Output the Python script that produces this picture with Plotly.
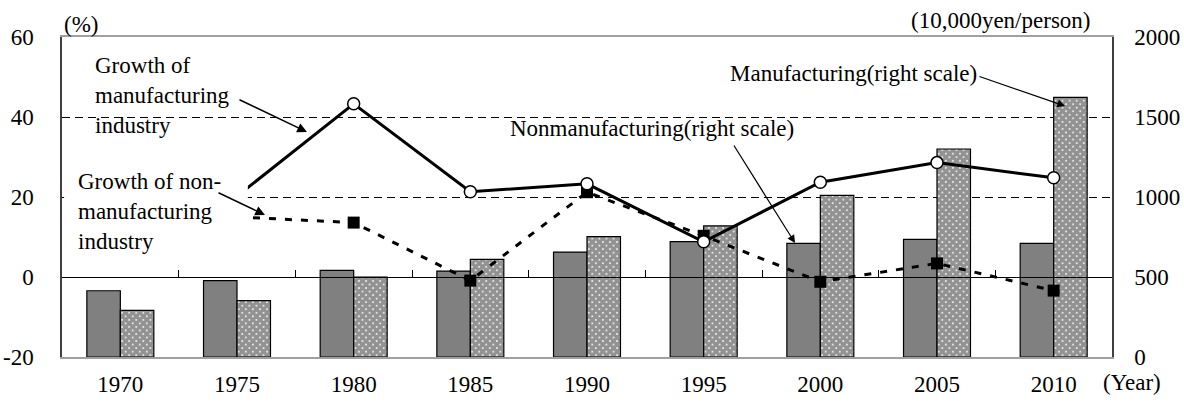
import plotly.graph_objects as go

years = ["1970", "1975", "1980", "1985", "1990", "1995", "2000", "2005", "2010"]
nonmfg_level = [414, 477, 542, 537, 656, 721, 710, 735, 710]
mfg_level = [292, 352, 500, 610, 752, 819, 1010, 1300, 1623]
mfg_growth = [None, 20.2, 43.3, 21.3, 23.3, 8.8, 23.7, 28.6, 24.8]
nonmfg_growth = [None, 15.0, 13.6, -0.9, 21.2, 10.3, -1.2, 3.4, -3.4]
left_ticks = [-20, 0, 20, 40, 60]
left_labels = ["-20", "0", "20", "40", "60"]
right_ticks = [0, 500, 1000, 1500, 2000]
right_labels = ["0", "500", "1000", "1500", "2000"]

FONT = "Liberation Serif"
FS = 23

fig = go.Figure()
fig.add_trace(go.Bar(x=years, y=nonmfg_level, xaxis="x", yaxis="y",
                     marker=dict(color="#808080", line=dict(color="black", width=1.2)),
                     showlegend=False))
fig.add_trace(go.Bar(x=years, y=mfg_level, xaxis="x", yaxis="y",
                     marker=dict(color="white", line=dict(color="black", width=1.2),
                                 pattern=dict(shape="x", size=5, solidity=0.9,
                                              fgcolor="#262626", bgcolor="#ffffff")),
                     showlegend=False))
fig.add_trace(go.Scatter(x=years, y=nonmfg_growth, xaxis="x", yaxis="y2", mode="lines+markers",
                         line=dict(color="black", width=3, dash="7px,9px"),
                         marker=dict(symbol="square", size=12, color="black"),
                         showlegend=False))
fig.add_trace(go.Scatter(x=years, y=mfg_growth, xaxis="x", yaxis="y2", mode="lines+markers",
                         line=dict(color="black", width=3),
                         marker=dict(symbol="circle", size=12, color="white",
                                     line=dict(color="black", width=1.5)),
                         showlegend=False))
# empty trace so the zero-level category tick axis is drawn
fig.add_trace(go.Scatter(x=[None], y=[None], xaxis="x3", yaxis="y2", showlegend=False,
                         hoverinfo="skip"))

tickfont = dict(family=FONT, size=FS, color="black")

fig.update_layout(
    width=1184, height=402,
    margin=dict(l=62, r=72, t=37, b=45),
    paper_bgcolor="white", plot_bgcolor="white",
    barmode="group", bargap=0.426, bargroupgap=0,
    showlegend=False,
    font=dict(family=FONT, size=FS, color="black"),
    xaxis=dict(type="category", range=[-0.5, 8.5], showline=True, linecolor="#a0a0a0",
               linewidth=1.5, mirror=True, ticks="", showgrid=False, tickfont=tickfont,
               ticklabelstandoff=6, automargin=False),
    xaxis3=dict(overlaying="x", anchor="free", position=0.25, range=[-0.5, 8.5],
                tick0=-0.5, dtick=1, ticks="inside", ticklen=7, tickcolor="black",
                showline=True, linecolor="black", linewidth=1, showticklabels=False,
                showgrid=False, zeroline=False, automargin=False),
    yaxis=dict(side="right", range=[0, 2000], tickvals=right_ticks, ticktext=right_labels,
               showgrid=True, gridcolor="black",
               gridwidth=1, griddash="8px,5px", zeroline=False, showline=True,
               linecolor="#404040", linewidth=1.5, ticks="", tickfont=tickfont,
               ticklabelstandoff=16, automargin=False),
    yaxis2=dict(overlaying="y", side="left", range=[-20, 60], tickvals=left_ticks,
                ticktext=left_labels, showgrid=False,
                zeroline=False, showline=True, linecolor="#404040", linewidth=1.5,
                ticks="", tickfont=tickfont, ticklabelstandoff=22, automargin=False),
)

# white label box that masks the start of the lines
fig.add_shape(type="rect", xref="paper", yref="paper", x0=0.002, x1=0.177, y0=0.328, y1=0.59,
              fillcolor="white", line=dict(width=0), layer="above")

def txt(x, y, s, xanchor="left", yanchor="middle"):
    fig.add_annotation(xref="paper", yref="paper", x=x, y=y, text=s, showarrow=False,
                       xanchor=xanchor, yanchor=yanchor, align="left",
                       font=dict(family=FONT, size=FS, color="black"))

txt(0.0, 1.0375, "(%)")
txt((1093 - 62) / 1050, (357 - 21) / 320, "(10,000yen/person)", xanchor="right")
txt((1132 - 62) / 1050, (357 - 382) / 320, "(Year)", xanchor="center")
txt((93 - 62) / 1050, (357 - 95) / 320, "Growth of<br>manufacturing<br>industry")
txt((76 - 62) / 1050, (357 - 211) / 320, "Growth of non-<br>manufacturing<br>industry")
txt((508 - 62) / 1050, (357 - 128) / 320, "Nonmanufacturing(right scale)")
txt((728 - 62) / 1050, (357 - 73) / 320, "Manufacturing(right scale)")

def arrow(tipx, tipy, tailx, taily, w=1.2):
    fig.add_annotation(xref="paper", yref="paper", x=(tipx - 62) / 1050, y=(357 - tipy) / 320,
                       ax=tailx - tipx, ay=taily - tipy, axref="pixel", ayref="pixel",
                       text="", showarrow=True, arrowhead=2, arrowsize=1.3, arrowwidth=w,
                       arrowcolor="black")

arrow(307, 132, 238, 99, 1.5)
arrow(265, 215, 217, 192, 1.5)
arrow(795, 243, 733, 144, 1.2)
arrow(1065, 106, 978, 76, 1.2)

fig.write_html("out.html", config={"displayModeBar": False},
               post_script="document.body.style.margin='0';document.body.style.overflow='hidden';")
